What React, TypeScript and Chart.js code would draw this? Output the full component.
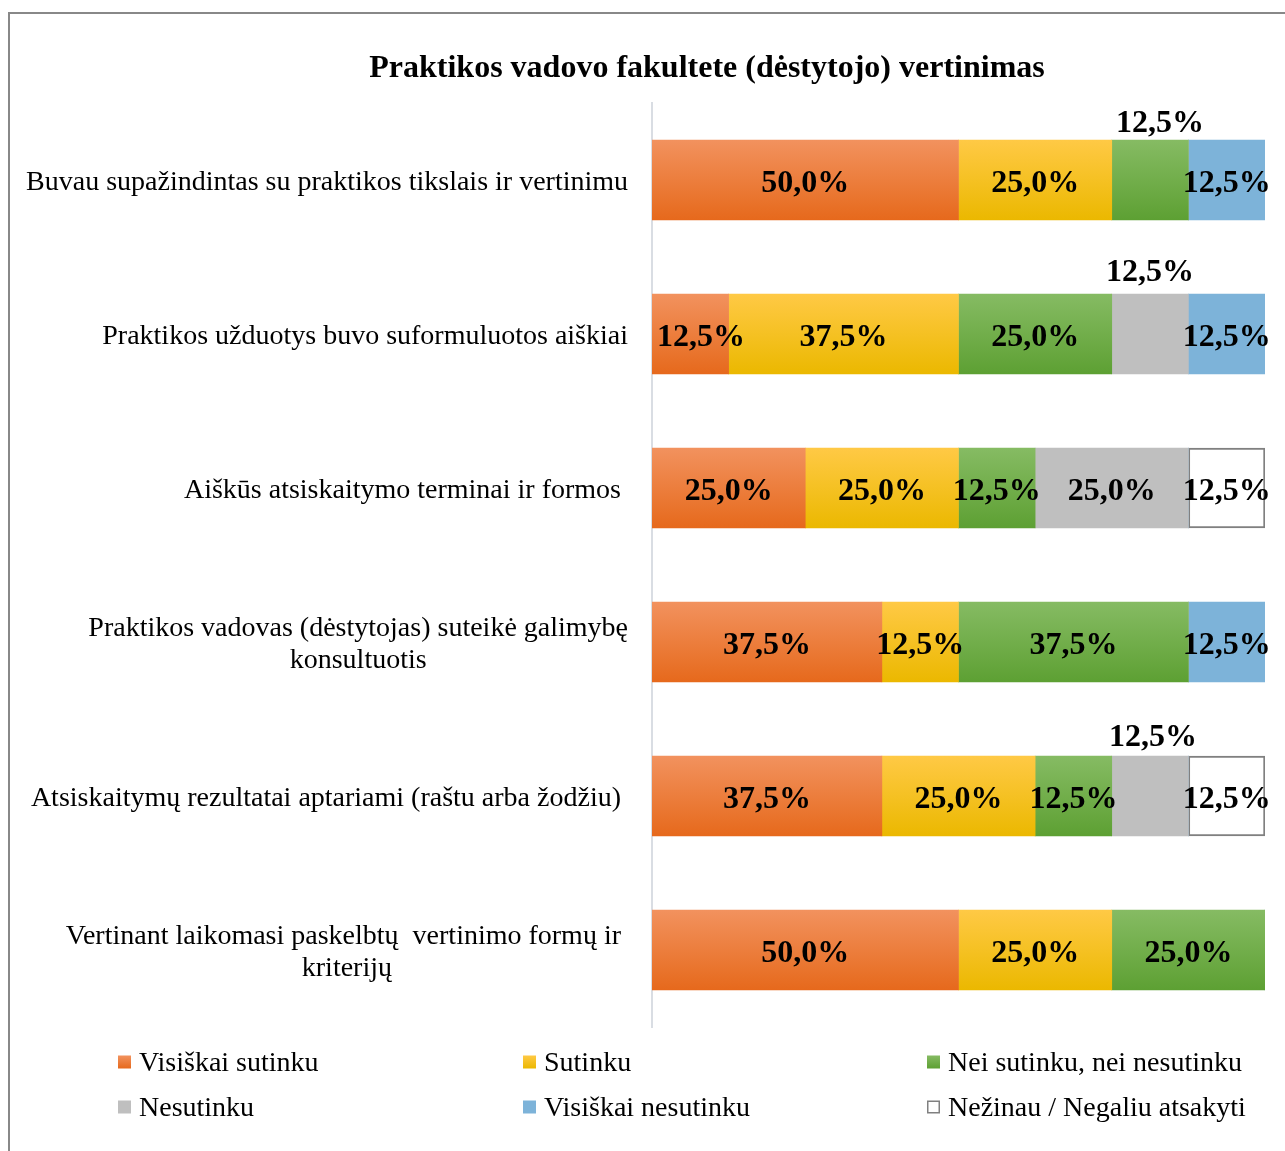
import React, { useEffect, useRef } from "react";
import { Chart, registerables } from "chart.js";

Chart.register(...registerables);

const chartTitle = "Praktikos vadovo fakultete (dėstytojo) vertinimas";

const categories: string[][] = [
  ["Buvau supažindintas su praktikos tikslais ir vertinimu"],
  ["Praktikos užduotys buvo suformuluotos aiškiai"],
  ["Aiškūs atsiskaitymo terminai ir formos "],
  ["Praktikos vadovas (dėstytojas) suteikė galimybę", "konsultuotis"],
  ["Atsiskaitymų rezultatai aptariami (raštu arba žodžiu) "],
  ["Vertinant laikomasi paskelbtų  vertinimo formų ir ", "kriterijų"],
];

const seriesNames = [
  "Visiškai sutinku",
  "Sutinku",
  "Nei sutinku, nei nesutinku",
  "Nesutinku",
  "Visiškai nesutinku",
  "Nežinau / Negaliu atsakyti",
];

const visiskaiSutinku = [50, 12.5, 25, 37.5, 37.5, 50];
const sutinku = [25, 37.5, 25, 12.5, 25, 25];
const neiSutinkuNeiNesutinku = [12.5, 25, 12.5, 37.5, 12.5, 25];
const nesutinku = [0, 12.5, 25, 0, 12.5, 0];
const visiskaiNesutinku = [12.5, 12.5, 0, 12.5, 0, 0];
const nezinau = [0, 0, 12.5, 0, 12.5, 0];

// labels drawn above the bar: [datasetIndex, dataIndex, dx, dy above bar top]
const labelsAbove: [number, number, number, number][] = [
  [2, 0, 10, 16],
  [3, 1, 0, 21],
  [3, 4, 3, 18],
];

const FONT = "'Liberation Serif', 'Times New Roman', serif";
const BAR_THICKNESS = 80;
const TEXT_SHIFT = 3;

type Fill = { top: string; bottom: string; border?: string };
const fills: Fill[] = [
  { top: "#F2925E", bottom: "#E6691C" },
  { top: "#FFC945", bottom: "#EBB800" },
  { top: "#86BB63", bottom: "#5DA033" },
  { top: "#BFBFBF", bottom: "#BFBFBF" },
  { top: "#7DB3D9", bottom: "#7DB3D9" },
  { top: "#FFFFFF", bottom: "#FFFFFF", border: "#808080" },
];

const fmt = (v: number) => v.toFixed(1).replace(".", ",") + "%";

function mix(a: string, b: string) {
  const p = (s: string, i: number) => parseInt(s.slice(i, i + 2), 16);
  const r = Math.round((p(a, 1) + p(b, 1)) / 2);
  const gg = Math.round((p(a, 3) + p(b, 3)) / 2);
  const bb = Math.round((p(a, 5) + p(b, 5)) / 2);
  return `rgb(${r},${gg},${bb})`;
}

function gradientFor(ctx: any, f: Fill) {
  const chart = ctx.chart;
  const ys = chart.scales && chart.scales.y;
  if (ctx.dataIndex === undefined || !ys || !chart.chartArea) return f.bottom;
  const c = ys.getPixelForValue(ctx.dataIndex);
  const g = chart.ctx.createLinearGradient(0, c - BAR_THICKNESS / 2, 0, c + BAR_THICKNESS / 2);
  g.addColorStop(0, f.top);
  g.addColorStop(0.5, f.top === f.bottom ? f.top : mix(f.top, f.bottom));
  g.addColorStop(1, f.bottom);
  return g;
}

const framePlugin = {
  id: "frame",
  beforeDraw(chart: any) {
    const c = chart.ctx;
    c.save();
    c.fillStyle = "#FFFFFF";
    c.fillRect(0, 0, chart.width, chart.height);
    c.strokeStyle = "#888888";
    c.lineWidth = 2;
    c.strokeRect(9, 13, chart.width + 50, chart.height + 50);
    c.fillStyle = "#000000";
    c.font = `bold 32px ${FONT}`;
    c.textAlign = "center";
    c.textBaseline = "middle";
    c.fillText(chartTitle, 707, 66 + TEXT_SHIFT);
    c.restore();
  },
};

const categoryLabelPlugin = {
  id: "categoryLabels",
  afterDraw(chart: any) {
    const c = chart.ctx;
    const ys = chart.scales.y;
    c.save();
    c.fillStyle = "#000000";
    c.font = `28px ${FONT}`;
    c.textBaseline = "middle";
    c.textAlign = "center";
    const right = 628;
    const lh = 32;
    categories.forEach((lines, i) => {
      const cy = ys.getPixelForValue(i) + TEXT_SHIFT;
      const w = Math.max(...lines.map((l) => c.measureText(l).width));
      const cx = right - w / 2;
      lines.forEach((l, j) => {
        c.fillText(l, cx, cy + (j - (lines.length - 1) / 2) * lh);
      });
    });
    c.restore();
  },
};

const valueLabelPlugin = {
  id: "valueLabels",
  afterDatasetsDraw(chart: any) {
    const c = chart.ctx;
    const left = chart.chartArea.left;
    c.save();
    c.fillStyle = "#000000";
    c.font = `bold 32px ${FONT}`;
    c.textAlign = "center";
    c.textBaseline = "middle";
    chart.data.datasets.forEach((ds: any, di: number) => {
      const meta = chart.getDatasetMeta(di);
      meta.data.forEach((el: any, i: number) => {
        const v = ds.data[i];
        if (!v) return;
        const text = fmt(v);
        const w = c.measureText(text).width;
        let x = (el.x + el.base) / 2;
        x = Math.max(x, left + 5 + w / 2);
        const above = labelsAbove.find(([a, b]) => a === di && b === i);
        if (above) {
          c.fillText(text, x + above[2], el.y - el.height / 2 - above[3]);
        } else {
          c.fillText(text, x, el.y + 1 + TEXT_SHIFT);
        }
      });
    });
    c.restore();
  },
};

const legendPlugin = {
  id: "customLegend",
  afterDraw(chart: any) {
    const c = chart.ctx;
    c.save();
    c.font = `28px ${FONT}`;
    c.textBaseline = "middle";
    c.textAlign = "left";
    const cols = [118, 523, 927];
    const rows = [1062, 1107];
    seriesNames.forEach((name, i) => {
      const x = cols[i % 3];
      const y = rows[Math.floor(i / 3)];
      const f = fills[i];
      const s = 13;
      const g = c.createLinearGradient(0, y - s / 2, 0, y + s / 2);
      g.addColorStop(0, f.top);
      g.addColorStop(1, f.bottom);
      c.fillStyle = g;
      c.fillRect(x, y - s / 2, s, s);
      if (f.border) {
        c.strokeStyle = f.border;
        c.lineWidth = 1.5;
        c.strokeRect(x + 0.75, y - s / 2 + 0.75, s - 1.5, s - 1.5);
      }
      c.fillStyle = "#000000";
      c.fillText(name, x + 21, y + 2);
    });
    c.restore();
  },
};

export default function App() {
  const ref = useRef<HTMLCanvasElement | null>(null);

  useEffect(() => {
    if (!ref.current) return;
    const seriesData = [
      visiskaiSutinku,
      sutinku,
      neiSutinkuNeiNesutinku,
      nesutinku,
      visiskaiNesutinku,
      nezinau,
    ];
    const chart = new Chart(ref.current, {
      type: "bar",
      data: {
        labels: categories.map((l) => l.join(" ")),
        datasets: seriesData.map((d, i) => ({
          label: seriesNames[i],
          data: d,
          backgroundColor: (ctx: any) => gradientFor(ctx, fills[i]),
          borderColor: fills[i].border || "rgba(0,0,0,0)",
          borderWidth: fills[i].border ? 2 : 0,
          borderSkipped: false,
          barThickness: BAR_THICKNESS,
          stack: "s",
        })),
      },
      options: {
        indexAxis: "y",
        responsive: false,
        animation: false,
        devicePixelRatio: 1,
        layout: { padding: { left: 652, right: 20, top: 103, bottom: 124 } },
        plugins: {
          legend: { display: false },
          title: { display: false },
          tooltip: { enabled: false },
        },
        scales: {
          x: {
            stacked: true,
            min: 0,
            max: 100,
            display: false,
          },
          y: {
            stacked: true,
            ticks: { display: false },
            grid: { display: false, drawTicks: false },
            border: { display: true, color: "#D9DDE3", width: 2 },
          },
        },
      },
      plugins: [framePlugin, categoryLabelPlugin, valueLabelPlugin, legendPlugin],
    } as any);
    return () => chart.destroy();
  }, []);

  return (
    <div style={{ position: "absolute", left: 0, top: 0 }}>
      <canvas ref={ref} width={1285} height={1151} style={{ display: "block" }} />
    </div>
  );
}
